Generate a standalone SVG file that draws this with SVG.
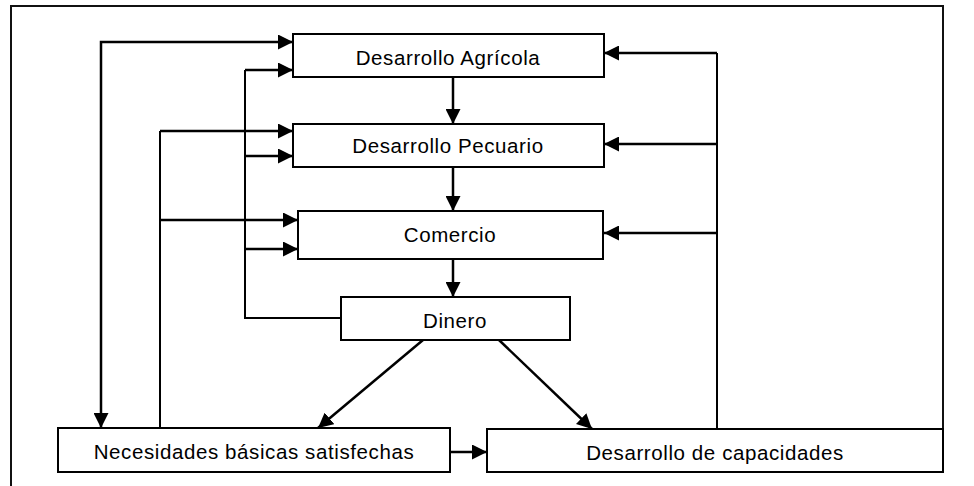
<svg xmlns="http://www.w3.org/2000/svg" width="974" height="486" viewBox="0 0 974 486">
<style>
.box{fill:#fff;stroke:#000;stroke-width:2}
.lbl{font-family:"Liberation Sans",Arial,sans-serif;font-size:20.5px;letter-spacing:0.6px;fill:#000;text-anchor:middle}
.c{fill:none;stroke:#000;stroke-width:2.5}
.t{fill:none;stroke:#000;stroke-width:2}
.frame{fill:none;stroke:#111;stroke-width:2}
</style>
<defs>
<marker id="ah" viewBox="0 0 15 15" refX="15" refY="7.5" markerWidth="15" markerHeight="15" markerUnits="userSpaceOnUse" orient="auto-start-reverse">
<path d="M0,0 L15,7.5 L0,15 Z" fill="#000"/>
</marker>
</defs>
<path class="frame" d="M11,486 V6 H943 V472"/>
<g id="connectors">
<path class="c" d="M293,42 H101 V428" marker-start="url(#ah)" marker-end="url(#ah)"/>
<path class="t" d="M341,318 H245 V70"/>
<path class="c" d="M245,70 H293" marker-end="url(#ah)"/>
<path class="c" d="M245,156 H293" marker-end="url(#ah)"/>
<path class="c" d="M245,249 H298" marker-end="url(#ah)"/>
<path class="t" d="M160,428 V131"/>
<path class="c" d="M160,131 H293" marker-end="url(#ah)"/>
<path class="c" d="M160,220 H298" marker-end="url(#ah)"/>
<path class="t" d="M717,429 V53"/>
<path class="c" d="M717,53 H604" marker-end="url(#ah)"/>
<path class="c" d="M717,144 H604" marker-end="url(#ah)"/>
<path class="c" d="M717,233 H604" marker-end="url(#ah)"/>
<path class="c" d="M453,77 V124" marker-end="url(#ah)"/>
<path class="c" d="M453,167 V211" marker-end="url(#ah)"/>
<path class="c" d="M453,259 V297" marker-end="url(#ah)"/>
<path class="c" d="M423,340 L318,428" marker-end="url(#ah)"/>
<path class="c" d="M499,340 L592,429" marker-end="url(#ah)"/>
<path class="c" d="M451,452 H487" marker-end="url(#ah)"/>
</g>
<g id="agricola"><rect class="box" x="293" y="34" width="311" height="43"/><text class="lbl" x="448" y="65">Desarrollo Agrícola</text></g>
<g id="pecuario"><rect class="box" x="293" y="124" width="311" height="43"/><text class="lbl" x="448" y="153">Desarrollo Pecuario</text></g>
<g id="comercio"><rect class="box" x="298" y="211" width="305" height="48"/><text class="lbl" x="450" y="242">Comercio</text></g>
<g id="dinero"><rect class="box" x="341" y="297" width="229" height="43"/><text class="lbl" x="455" y="328">Dinero</text></g>
<g id="necesidades"><rect class="box" x="58" y="428" width="392" height="44"/><text class="lbl" x="254" y="459">Necesidades básicas satisfechas</text></g>
<g id="capacidades"><rect class="box" x="487" y="429" width="456" height="43"/><text class="lbl" x="715" y="460">Desarrollo de capacidades</text></g>
</svg>
